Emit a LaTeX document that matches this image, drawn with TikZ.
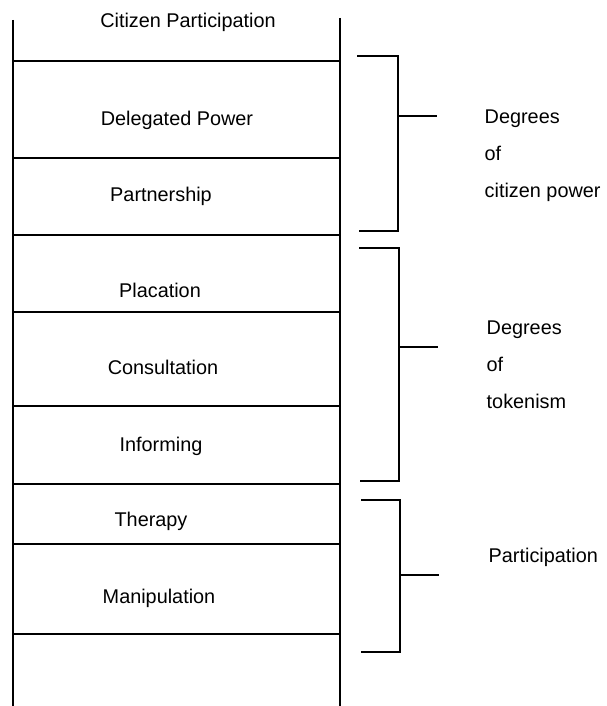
\documentclass[tikz,border=0pt]{standalone}
\usepackage{fontspec}
\setmainfont{Liberation Sans}
\usetikzlibrary{positioning}

\begin{document}
\begin{tikzpicture}[x=0.02cm, y=-0.02cm, line width=0.8pt,
    rung/.style={font=\fontsize{11.3}{13}\selectfont, inner sep=0pt, anchor=base},
    side/.style={font=\fontsize{11.3}{21}\selectfont, inner sep=0pt, align=left, anchor=base west}]
  \useasboundingbox (0,0) rectangle (606,706);
  % the ladder
  \draw (13,20) -- (13,706);
  \draw (340,18) -- (340,706);
  \foreach \y in {61,158,235,312,406,484,544,634}
    \draw (13,\y) -- (340,\y);
  % rungs, top to bottom
  \node[rung] (cp) at (188,28) {Citizen Participation};
  \node[rung] (dp) at (177,125) {Delegated Power};
  \node[rung] (pa) at (161,201) {Partnership};
  \node[rung] (pl) at (160,297) {Placation};
  \node[rung] (co) at (163,374) {Consultation};
  \node[rung] (in) at (161,451) {Informing};
  \node[rung] (th) at (151,526) {Therapy};
  \node[rung] (ma) at (159,603) {Manipulation};
  % brackets
  \draw (357,56) -- (398,56) -- (398,231) -- (359,231);
  \draw (398,116) -- (437,116);
  \draw (359,248) -- (399,248) -- (399,481) -- (360,481);
  \draw (399,347) -- (438,347);
  \draw (361,500) -- (400,500) -- (400,652) -- (361,652);
  \draw (400,575) -- (439,575);
  % base is the last line here
  \node[side] (cpow) at (484,197) {Degrees\\of\\citizen power};
  \node[side] (tok) at (486,408) {Degrees\\of\\tokenism};
  \node[side] (part) at (488,562) {Participation};
\end{tikzpicture}
\end{document}
